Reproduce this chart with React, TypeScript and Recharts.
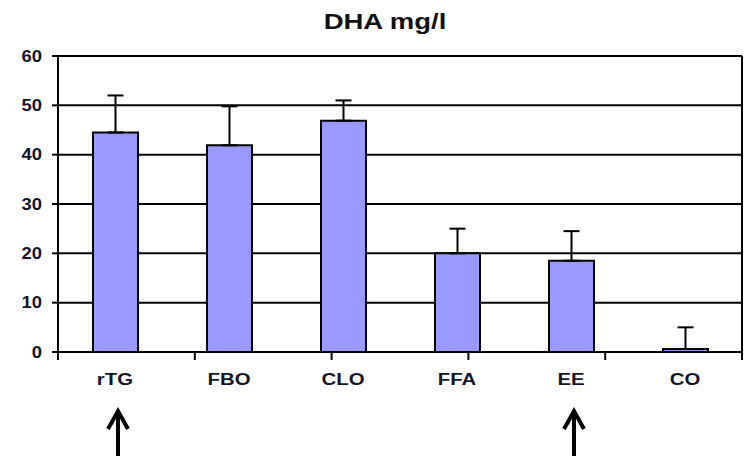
import React from "react";
import { BarChart, Bar, XAxis, YAxis, CartesianGrid, ErrorBar } from "recharts";

const categories = ["rTG", "FBO", "CLO", "FFA", "EE", "CO"];
const dhaValues = [44.5, 41.9, 46.9, 20.0, 18.5, 0.6];
const dhaErrors = [7.5, 7.9, 4.1, 5.0, 6.0, 4.4];
const yTicks = [0, 10, 20, 30, 40, 50, 60];
const edgeTicks = [0, 1, 2, 3, 4, 5, 6];
const arrowed = ["rTG", "EE"];
const title = "DHA mg/l";

const data = categories.map((name, i) => ({
  name,
  value: dhaValues[i],
  err: [0, dhaErrors[i]],
}));

const FONT = "'Liberation Sans', Arial, sans-serif";

const CatTick = (props: any) => {
  const { x, y, payload } = props;
  const name = payload.value;
  const ax = x + 3;
  return (
    <g>
      <text
        transform={`translate(${x},${y + 33}) scale(1.2,1)`}
        textAnchor="middle"
        fontFamily={FONT}
        fontWeight="bold"
        fontSize={17}
        fill="#141428"
      >
        {name}
      </text>
      {arrowed.includes(name) && (
        <g stroke="#000" strokeWidth={4} fill="none" strokeLinejoin="miter">
          <line x1={ax} y1={y + 58} x2={ax} y2={y + 104} />
          <polyline points={`${ax - 10},${y + 77} ${ax},${y + 59} ${ax + 10},${y + 77}`} />
        </g>
      )}
    </g>
  );
};

const EdgeTick = (props: any) => {
  const { x, y } = props;
  return <line x1={x} y1={y} x2={x} y2={y + 8} stroke="#000" strokeWidth={2} />;
};

const YTick = (props: any) => {
  const { x, y, payload } = props;
  return (
    <text
      transform={`translate(${x},${y}) scale(1.15,1)`}
      textAnchor="end"
      dy="0.36em"
      fontFamily={FONT}
      fontWeight="bold"
      fontSize={16}
      fill="#141428"
    >
      {payload.value}
    </text>
  );
};

export default function App() {
  return (
    <div style={{ position: "absolute", left: 0, top: 0, width: 744, height: 456, background: "#fff" }}>
      <svg width={744} height={50} style={{ position: "absolute", left: 0, top: 0 }}>
        <text
          transform="translate(385,29) scale(1.25,1)"
          textAnchor="middle"
          fontFamily={FONT}
          fontWeight="bold"
          fontSize={22}
          fill="#111"
        >
          {title}
        </text>
      </svg>
      <BarChart
        width={744}
        height={456}
        data={data}
        margin={{ top: 56, right: 0, left: 0, bottom: 0 }}
        style={{ position: "absolute", left: 0, top: 0 }}
      >
        <CartesianGrid
          xAxisId="cat"
          yAxisId="left"
          horizontal={true}
          vertical={false}
          stroke="#000"
          strokeWidth={2}
        />
        <XAxis
          xAxisId="cat"
          dataKey="name"
          height={104}
          axisLine={{ stroke: "#000", strokeWidth: 2 }}
          tickLine={false}
          tickSize={0}
          tickMargin={0}
          interval={0}
          tick={<CatTick />}
        />
        <XAxis
          xAxisId="edges"
          type="number"
          domain={[0, 6]}
          ticks={edgeTicks}
          allowDataOverflow
          mirror
          height={1}
          axisLine={false}
          tickLine={false}
          tickSize={0}
          tickMargin={0}
          interval={0}
          tick={<EdgeTick />}
        />
        <YAxis
          yAxisId="left"
          domain={[0, 60]}
          ticks={yTicks}
          width={58}
          axisLine={{ stroke: "#000", strokeWidth: 2 }}
          tickLine={{ stroke: "#000", strokeWidth: 2 }}
          tickSize={6}
          tickMargin={10}
          tick={<YTick />}
        />
        <YAxis
          yAxisId="right"
          orientation="right"
          domain={[0, 60]}
          width={2}
          tick={false}
          tickLine={false}
          axisLine={{ stroke: "#000", strokeWidth: 2 }}
        />
        <Bar
          xAxisId="cat"
          yAxisId="left"
          dataKey="value"
          fill="#9999FF"
          stroke="#000"
          strokeWidth={2}
          barSize={45}
          isAnimationActive={false}
        >
          <ErrorBar dataKey="err" width={8} stroke="#000" strokeWidth={2} direction="y" />
        </Bar>
      </BarChart>
    </div>
  );
}
